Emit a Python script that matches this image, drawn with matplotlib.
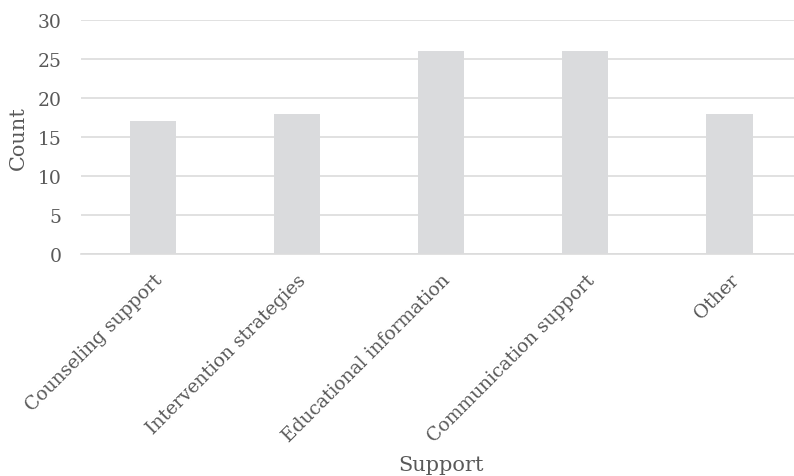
import matplotlib.pyplot as plt

categories = ["Counseling support", "Intervention strategies", "Educational information",
              "Communication support", "Other"]
counts = [17, 18, 26, 26, 18]
yticks = [0, 5, 10, 15, 20, 25, 30]

text_color = "#595959"
plt.rcParams["font.family"] = ["DejaVu Serif"]

fig = plt.figure(figsize=(7.94, 4.77), dpi=100)
# plot area runs slightly past the right edge of the figure
ax = fig.add_axes([0.102, 0.4654, 0.9076, 0.4906])

x = range(len(categories))
ax.bar(x, counts, width=0.32, color="#dadbdd", zorder=2)

ax.set_xlim(-0.5, len(categories) - 0.5)
ax.set_ylim(0, 30)
ax.set_yticks(yticks)
ax.yaxis.grid(True, color="#dcdcdc", linewidth=1.2, zorder=0)
ax.set_xticks(list(x))
ax.set_xticklabels(categories, rotation=45, ha="right", rotation_mode="anchor")

for s in ["top", "right", "left"]:
    ax.spines[s].set_visible(False)
ax.spines["bottom"].set_color("#dcdcdc")
ax.spines["bottom"].set_linewidth(1.2)
ax.tick_params(axis="both", length=0, labelsize=13.5, colors=text_color)
ax.tick_params(axis="y", pad=14)
ax.tick_params(axis="x", pad=12)

ax.set_ylabel("Count", fontsize=15, color=text_color, labelpad=7)
ax.set_xlabel("Support", fontsize=15, color=text_color)
ax.xaxis.set_label_coords(0.5, -0.86)

fig.savefig("out.png", dpi=100)
